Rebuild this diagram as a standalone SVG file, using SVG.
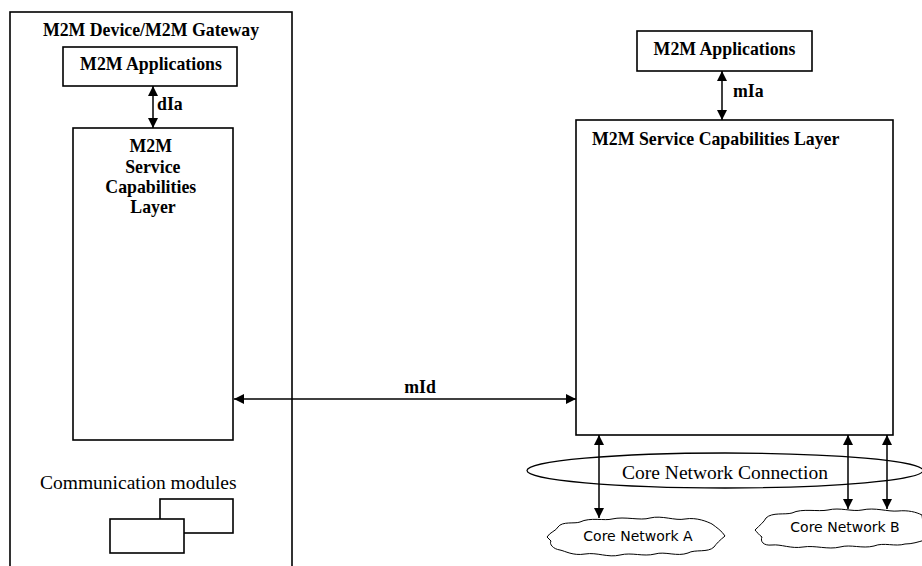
<svg xmlns="http://www.w3.org/2000/svg" width="922" height="566" viewBox="0 0 922 566">
<style>
.box{fill:#fff;stroke:#000;stroke-width:1.6}
.ln{fill:none;stroke:#000;stroke-width:1.5}
.b{font-family:"Liberation Serif","Times New Roman",serif;font-weight:bold;font-size:17.8px;fill:#000}
.r{font-family:"Liberation Serif","Times New Roman",serif;font-size:19.5px;fill:#000}
.s{font-family:"DejaVu Sans",Verdana,sans-serif;font-size:14px;fill:#000}
.cloud{fill:#fff;stroke:#000;stroke-width:1}
</style>
<defs>
<marker id="ah" viewBox="0 0 10 10" refX="10" refY="5" markerWidth="10" markerHeight="10" markerUnits="userSpaceOnUse" orient="auto-start-reverse">
<path d="M0,0 L10,5 L0,10 Z" fill="#000"/>
</marker>
</defs>
<rect width="922" height="566" fill="#fff"/>

<g id="device-gateway">
<rect class="box" x="10" y="12" width="282" height="600"/>
<text class="b" x="151" y="36" text-anchor="middle">M2M Device/M2M Gateway</text>
</g>

<g id="dev-apps">
<rect class="box" x="63" y="47" width="174" height="39"/>
<text class="b" x="151" y="70" text-anchor="middle">M2M Applications</text>
</g>

<g id="dev-scl">
<rect class="box" x="73" y="128" width="160" height="312"/>
<text class="b" text-anchor="middle">
<tspan x="153" y="152">M2M</tspan>
<tspan x="155" y="173">Service</tspan>
<tspan x="153" y="193">Capabilities</tspan>
<tspan x="153" y="213">Layer</tspan>
</text>
</g>

<g id="comm-modules">
<text class="r" x="40" y="489">Communication modules</text>
<rect class="box" x="160" y="499" width="73" height="34"/>
<rect class="box" x="110" y="519" width="74" height="34"/>
</g>

<g id="net-apps">
<rect class="box" x="637" y="31" width="175" height="40"/>
<text class="b" x="724.5" y="55" text-anchor="middle">M2M Applications</text>
</g>

<g id="net-scl">
<rect class="box" x="576" y="120" width="317" height="315"/>
<text class="b" x="592" y="145">M2M Service Capabilities Layer</text>
</g>

<g id="core-connection">
<ellipse cx="725" cy="470.5" rx="198" ry="17.5" fill="none" stroke="#000" stroke-width="1.3"/>
<text class="r" x="725" y="479" text-anchor="middle" font-size="21.4">Core Network Connection</text>
</g>

<g id="core-network-a">
<path class="cloud" d="M547,537 C550,532 556,531 558,527 C562,521 575,524 580,522 C590,517 605,521 612,519 C625,516 640,521 650,518 C662,515 675,521 685,519 C697,517 708,522 712,524 C716,527 722,531 725,536 C720,540 716,544 714,547 C708,553 695,549 688,553 C677,557 665,551 655,554 C643,557 632,552 620,555 C608,558 597,552 585,554 C573,556 565,551 560,550 C553,549 549,544 551,541 Z"/>
<text class="s" x="638" y="541" text-anchor="middle">Core Network A</text>
</g>

<g id="core-network-b">
<path class="cloud" d="M755,530 C760,525 764,522 766,518 C772,512 785,515 792,513 C802,508 818,512 828,510 C840,507 852,512 862,510 C875,507 888,512 898,511 C908,510 916,512 922,515 L925,540 C918,542 912,544 905,544 C895,547 884,542 874,546 C862,549 851,544 840,547 C828,550 815,545 803,547 C791,549 781,544 772,545 C763,546 760,541 762,537 C759,535 757,532 755,530 Z"/>
<text class="s" x="845" y="532" text-anchor="middle">Core Network B</text>
</g>

<g id="connectors">
<line class="ln" x1="153" y1="86" x2="153" y2="128" marker-start="url(#ah)" marker-end="url(#ah)"/>
<text class="b" x="157" y="110">dIa</text>
<line class="ln" x1="722" y1="71" x2="722" y2="120" marker-start="url(#ah)" marker-end="url(#ah)"/>
<text class="b" x="733" y="97">mIa</text>
<line class="ln" x1="234" y1="399" x2="576" y2="399" marker-start="url(#ah)" marker-end="url(#ah)"/>
<text class="b" x="420" y="393" text-anchor="middle">mId</text>
<line class="ln" x1="599" y1="435" x2="599" y2="518" marker-start="url(#ah)" marker-end="url(#ah)"/>
<line class="ln" x1="848" y1="435" x2="848" y2="509" marker-start="url(#ah)" marker-end="url(#ah)"/>
<line class="ln" x1="887" y1="435" x2="887" y2="509" marker-start="url(#ah)" marker-end="url(#ah)"/>
</g>
</svg>
